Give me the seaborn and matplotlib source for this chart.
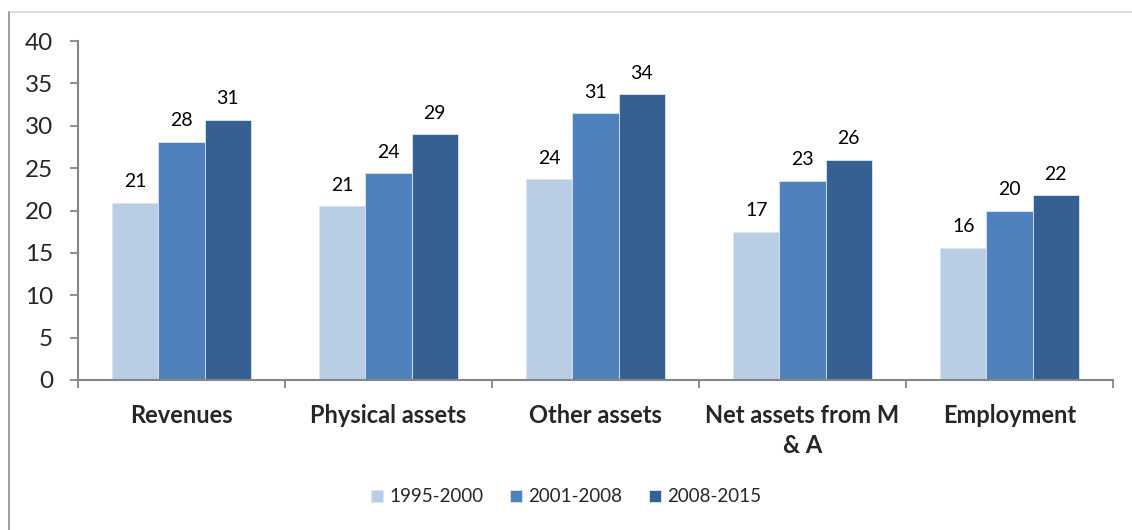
import matplotlib
matplotlib.use("Agg")
import matplotlib.pyplot as plt
from matplotlib.lines import Line2D
from matplotlib.ticker import FixedLocator
import seaborn as sns
import pandas as pd

categories = ["Revenues", "Physical assets", "Other assets", "Net assets from M\n& A", "Employment"]
periods = ["1995-2000", "2001-2008", "2008-2015"]
values_1995_2000 = [20.9, 20.5, 23.7, 17.5, 15.6]
values_2001_2008 = [28.1, 24.4, 31.5, 23.5, 20.0]
values_2008_2015 = [30.7, 29.0, 33.7, 26.0, 21.8]
labels_1995_2000 = ["21", "21", "24", "17", "16"]
labels_2001_2008 = ["28", "24", "31", "23", "20"]
labels_2008_2015 = ["31", "29", "34", "26", "22"]
y_ticks = [0, 5, 10, 15, 20, 25, 30, 35, 40]

series = [values_1995_2000, values_2001_2008, values_2008_2015]
series_labels = [labels_1995_2000, labels_2001_2008, labels_2008_2015]
rows = []
for p, vals in zip(periods, series):
    for c, v in zip(categories, vals):
        rows.append({"Category": c, "Period": p, "Value": v})
df = pd.DataFrame(rows)

colors = ["#B9CDE5", "#4F81BD", "#376092"]

sns.set_theme(style="white")
plt.rcParams["font.family"] = ["Lato", "DejaVu Sans"]

fig = plt.figure(figsize=(11.32, 5.30), dpi=100)
ax = fig.add_axes([78 / 1132, 1 - 380 / 530, (1113 - 78) / 1132, (380 - 41) / 530])

sns.barplot(data=df, x="Category", y="Value", hue="Period", order=categories,
            hue_order=periods, palette=colors, width=0.667, gap=0,
            edgecolor="#DDE6F2", linewidth=0.6, saturation=1, ax=ax, legend=True)

for cont, labs in zip(ax.containers, series_labels):
    ax.bar_label(cont, labels=labs, padding=9, fontsize=14, color="#000000")

ax.set_ylim(0, 40)
ax.set_xlim(-0.5, len(categories) - 0.5)
ax.set_yticks(y_ticks)
ax.set_yticklabels([str(t) for t in y_ticks], fontsize=17.5)
ax.set_xlabel("")
ax.set_ylabel("")
ax.tick_params(axis="y", length=6, width=1.3, color="#868686", direction="out", pad=12, left=True)
ax.tick_params(axis="x", which="major", length=0, pad=17, labelsize=17)
for lbl in ax.get_xticklabels():
    lbl.set_fontweight("bold")
    lbl.set_linespacing(1.4)
ax.xaxis.set_minor_locator(FixedLocator([i - 0.5 for i in range(len(categories) + 1)]))
ax.tick_params(axis="x", which="minor", length=6, width=1.3, color="#868686", direction="out", bottom=True)

for s in ["top", "right"]:
    ax.spines[s].set_visible(False)
for s in ["left", "bottom"]:
    ax.spines[s].set_color("#868686")
    ax.spines[s].set_linewidth(1.5)

handles, labs = ax.get_legend_handles_labels()
ax.legend_.remove()
fig.legend(handles, labs, loc="center", bbox_to_anchor=(0.5, 1 - 497 / 530), ncol=3,
           frameon=False, fontsize=13.5, handlelength=0.65, handleheight=0.65,
           columnspacing=1.4, handletextpad=0.35)

fig.add_artist(Line2D([9 / 1132, 1], [1 - 12 / 530, 1 - 12 / 530], transform=fig.transFigure,
                      color="#D9D9D9", linewidth=1.2))
fig.add_artist(Line2D([9 / 1132, 9 / 1132], [0, 1 - 12 / 530], transform=fig.transFigure,
                      color="#8C8C8C", linewidth=1.2))

fig.savefig("out.png", dpi=100)
